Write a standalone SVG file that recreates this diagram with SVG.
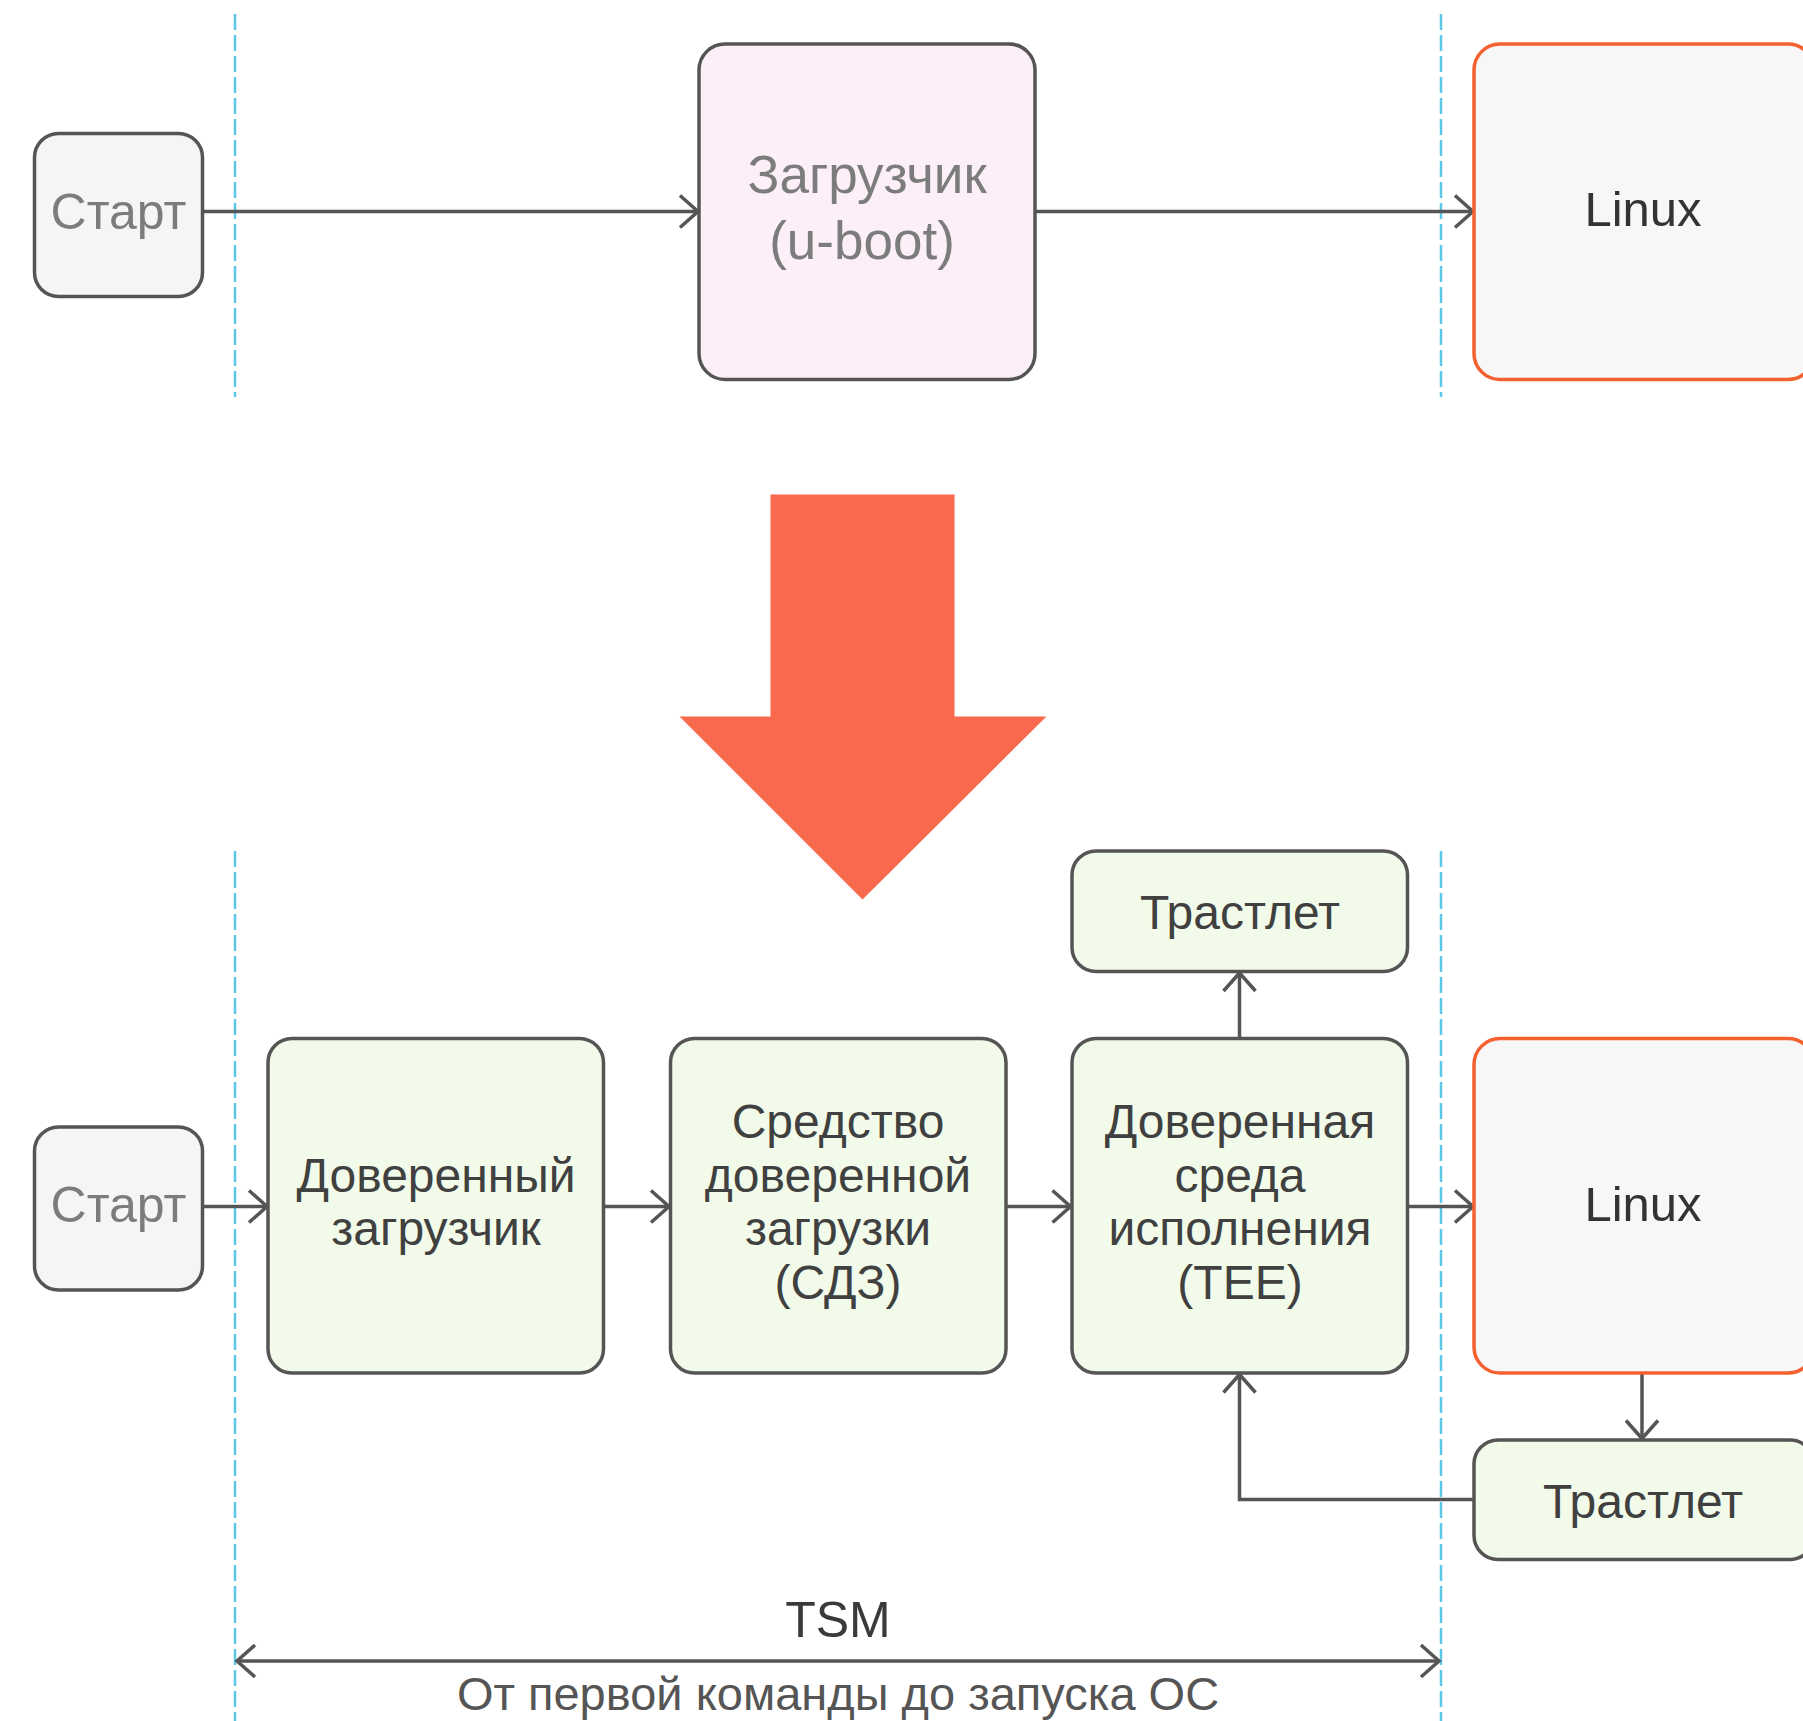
<svg xmlns="http://www.w3.org/2000/svg" width="1803" height="1721" viewBox="0 0 1803 1721">
<style>
.bg{fill:#ffffff}
.box{stroke:#555555;stroke-width:3.5}
.start{fill:#F5F5F6}
.pink{fill:#FCEFF8}
.green{fill:#F2FBEA}
.linux{fill:#F7F7F7;stroke:#F4612E;stroke-width:3.5}
.guide{stroke:#5CC6E6;stroke-width:2.5;stroke-dasharray:16 5;fill:none}
.conn{stroke:#555555;stroke-width:3.5;fill:none}
text{font-family:"Liberation Sans","DejaVu Sans",Arial,sans-serif;text-anchor:middle}
.lt{fill:#7c7c7c;font-size:50px}
.ub{fill:#7c7c7c;font-size:53px}
.dk{fill:#404040;font-size:48px}
.lx{fill:#333333;font-size:49px}
.cap{fill:#3a3a3a;font-size:50px}
.sub{fill:#555555;font-size:47px}
</style>
<defs>
<marker id="arr" viewBox="0 0 22 36" refX="20" refY="18" markerWidth="22" markerHeight="36" markerUnits="userSpaceOnUse" orient="auto-start-reverse" overflow="visible">
<path d="M2,2 L20,18 L2,34" fill="none" stroke="#555555" stroke-width="3.5"/>
</marker>
</defs>
<rect class="bg" x="0" y="0" width="1803" height="1721"/>

<g id="guides">
<line class="guide" x1="235" y1="14" x2="235" y2="397"/>
<line class="guide" x1="1441" y1="14" x2="1441" y2="397"/>
<line class="guide" x1="235" y1="851" x2="235" y2="1721"/>
<line class="guide" x1="1441" y1="851" x2="1441" y2="1721"/>
</g>

<g id="big-arrow">
<polygon points="770.5,494.5 954.5,494.5 954.5,716.5 1046.5,716.5 862.5,899.5 679.5,716.5 770.5,716.5" fill="#F8694E"/>
</g>

<g id="connectors">
<line class="conn" x1="202" y1="211.5" x2="698" y2="211.5" marker-end="url(#arr)"/>
<line class="conn" x1="1035" y1="211.5" x2="1473" y2="211.5" marker-end="url(#arr)"/>
<line class="conn" x1="202" y1="1206.5" x2="267" y2="1206.5" marker-end="url(#arr)"/>
<line class="conn" x1="603.5" y1="1206.5" x2="669" y2="1206.5" marker-end="url(#arr)"/>
<line class="conn" x1="1006" y1="1206.5" x2="1070.5" y2="1206.5" marker-end="url(#arr)"/>
<line class="conn" x1="1407.5" y1="1206.5" x2="1473" y2="1206.5" marker-end="url(#arr)"/>
<line class="conn" x1="1239.5" y1="1038.5" x2="1239.5" y2="973" marker-end="url(#arr)"/>
<line class="conn" x1="1642" y1="1373" x2="1642" y2="1438.5" marker-end="url(#arr)"/>
<polyline class="conn" points="1474,1499.5 1239.5,1499.5 1239.5,1374.5" marker-end="url(#arr)"/>
<line class="conn" x1="237" y1="1661" x2="1439" y2="1661" marker-start="url(#arr)" marker-end="url(#arr)"/>
</g>

<g id="start-top">
<rect class="box start" x="34.5" y="133.5" width="168" height="163" rx="24"/>
<text class="lt" x="118.5" y="229">Старт</text>
</g>
<g id="uboot">
<rect class="box pink" x="699" y="44" width="336" height="335.5" rx="26"/>
<text class="ub" x="867" y="193">Загрузчик</text>
<text class="ub" x="862" y="259">(u-boot)</text>
</g>
<g id="linux-top">
<rect class="linux" x="1474" y="44" width="340" height="335.5" rx="26"/>
<text class="lx" x="1643" y="226">Linux</text>
</g>

<g id="start-bottom">
<rect class="box start" x="34.5" y="1127" width="168" height="163" rx="24"/>
<text class="lt" x="118.5" y="1222">Старт</text>
</g>
<g id="trusted-loader">
<rect class="box green" x="268" y="1038.5" width="335.5" height="334.5" rx="24"/>
<text class="dk" x="436" y="1192">Доверенный</text>
<text class="dk" x="436" y="1245">загрузчик</text>
</g>
<g id="sdz">
<rect class="box green" x="670.5" y="1038.5" width="335.5" height="334.5" rx="24"/>
<text class="dk" x="838" y="1138">Средство</text>
<text class="dk" x="838" y="1192">доверенной</text>
<text class="dk" x="838" y="1245">загрузки</text>
<text class="dk" x="838" y="1299">(СДЗ)</text>
</g>
<g id="tee">
<rect class="box green" x="1072" y="1038.5" width="335.5" height="334.5" rx="24"/>
<text class="dk" x="1240" y="1138">Доверенная</text>
<text class="dk" x="1240" y="1192">среда</text>
<text class="dk" x="1240" y="1245">исполнения</text>
<text class="dk" x="1240" y="1299">(TEE)</text>
</g>
<g id="trustlet-top">
<rect class="box green" x="1072" y="851" width="335.5" height="120.5" rx="24"/>
<text class="dk" x="1240" y="929">Трастлет</text>
</g>
<g id="linux-bottom">
<rect class="linux" x="1474" y="1038.5" width="340" height="334.5" rx="26"/>
<text class="lx" x="1643" y="1221">Linux</text>
</g>
<g id="trustlet-bottom">
<rect class="box green" x="1474" y="1440" width="340" height="119.5" rx="24"/>
<text class="dk" x="1643" y="1518">Трастлет</text>
</g>

<g id="tsm-label">
<text class="cap" x="838" y="1637">TSM</text>
<text class="sub" x="838" y="1710">От первой команды до запуска ОС</text>
</g>
</svg>
